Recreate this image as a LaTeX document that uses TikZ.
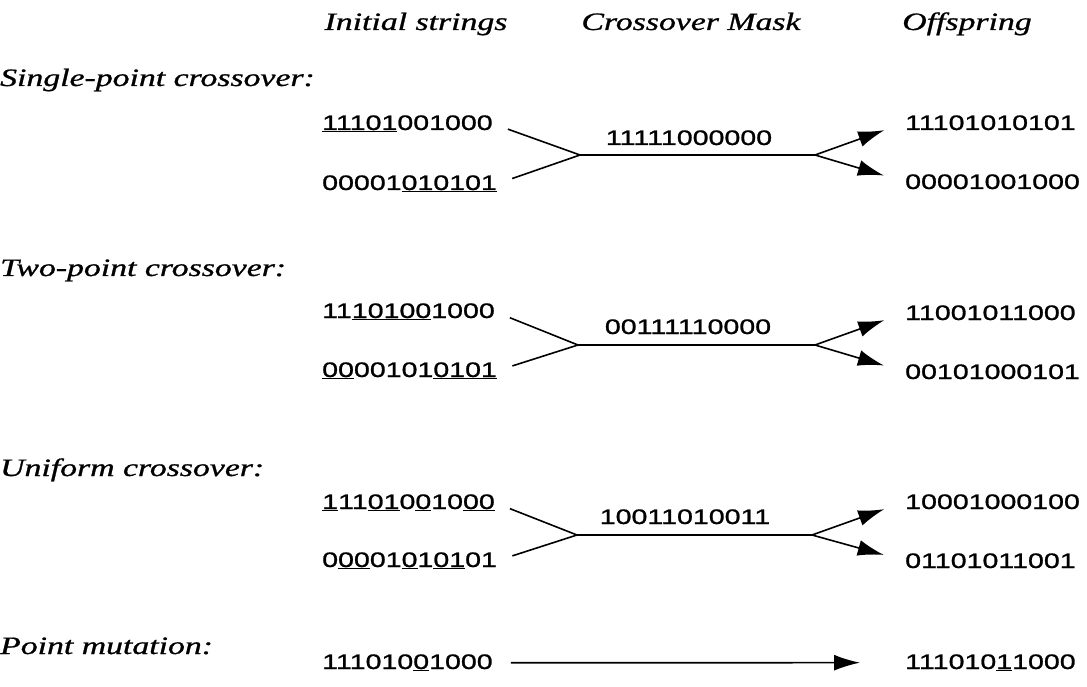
\documentclass[tikz,border=0pt]{standalone}
\usepackage{fontspec}
\setmainfont{Liberation Serif}
\newfontfamily\digitfont{Liberation Sans}[FakeBold=0.9]
\newfontfamily\labelfont{Liberation Serif}[FakeBold=0.8]
\usetikzlibrary{arrows.meta}
\newcommand\bitstr[1]{\scalebox{1.36}[1]{\fontsize{21}{21}\digitfont #1}}
\newcommand\U[1]{\underline{#1}}
\newcommand\ital[1]{\scalebox{1.35}[1]{\fontsize{25}{25}\labelfont\itshape #1}}
\tikzset{
  bits/.style={anchor=base west, inner sep=0pt},
  maskbits/.style={anchor=base, inner sep=0pt},
  hdr/.style={anchor=base, inner sep=0pt},
  lbl/.style={anchor=base west, inner sep=0pt},
  ln/.style={line width=1.6pt, shorten <=16pt},
  mid/.style={line width=1.6pt},
  arr/.style={line width=1.6pt, -{Latex[length=26pt,width=16pt]}, shorten >=22pt},
}
\begin{document}
\begin{tikzpicture}[x=1pt,y=-1pt]
\useasboundingbox (0,0) rectangle (1087,687);
% headers
\node[hdr] (h1) at (416,30) {\ital{Initial strings}};
\node[hdr] (h2) at (691,30) {\ital{Crossover Mask}};
\node[hdr] (h3) at (967,30) {\ital{Offspring}};
% section labels
\node[lbl] (l1) at (0,86) {\ital{Single-point crossover:}};
\node[lbl] (l2) at (0,276) {\ital{Two-point crossover:}};
\node[lbl] (l3) at (0,476) {\ital{Uniform crossover:}};
\node[lbl] (l4) at (0,654) {\ital{Point mutation:}};
% single-point
\node[bits] (s1a) at (322,130) {\bitstr{\U{11101}001000}};
\node[bits] (s1b) at (322,190) {\bitstr{00001\U{010101}}};
\node[maskbits] (m1) at (689,145) {\bitstr{11111000000}};
\node[bits] (o1a) at (905,130) {\bitstr{11101010101}};
\node[bits] (o1b) at (905,189) {\bitstr{00001001000}};
\coordinate (j1l) at (580,155);
\coordinate (j1r) at (815,155);
\draw[ln] (s1a.east) -- (j1l);
\draw[ln] (s1b.east) -- (j1l);
\draw[mid] (j1l) -- (j1r);
\draw[arr] (j1r) -- (o1a.west);
\draw[arr] (j1r) -- (o1b.west);
% two-point
\node[bits] (s2a) at (322,318) {\bitstr{11\U{10100}1000}};
\node[bits] (s2b) at (322,377) {\bitstr{\U{00}00101\U{0101}}};
\node[maskbits] (m2) at (688,334) {\bitstr{00111110000}};
\node[bits] (o2a) at (905,320) {\bitstr{11001011000}};
\node[bits] (o2b) at (905,379) {\bitstr{00101000101}};
\coordinate (j2l) at (578,345);
\coordinate (j2r) at (815,345);
\draw[ln] (s2a.east) -- (j2l);
\draw[ln] (s2b.east) -- (j2l);
\draw[mid] (j2l) -- (j2r);
\draw[arr] (j2r) -- (o2a.west);
\draw[arr] (j2r) -- (o2b.west);
% uniform
\node[bits] (s3a) at (322,509) {\bitstr{\U{1}11\U{01}0\U{0}10\U{00}}};
\node[bits] (s3b) at (322,567) {\bitstr{0\U{00}01\U{0}1\U{01}01}};
\node[maskbits] (m3) at (685,524) {\bitstr{10011010011}};
\node[bits] (o3a) at (905,509) {\bitstr{10001000100}};
\node[bits] (o3b) at (905,568) {\bitstr{01101011001}};
\coordinate (j3l) at (577,535);
\coordinate (j3r) at (812,535);
\draw[ln] (s3a.east) -- (j3l);
\draw[ln] (s3b.east) -- (j3l);
\draw[mid] (j3l) -- (j3r);
\draw[arr] (j3r) -- (o3a.west);
\draw[arr] (j3r) -- (o3b.west);
% mutation
\node[bits] (s4) at (322,669) {\bitstr{111010\U{0}1000}};
\node[bits] (o4) at (905,669) {\bitstr{111010\U{1}1000}};
\draw[line width=1.6pt, -{Latex[length=26pt,width=16pt]}, shorten <=18pt, shorten >=45pt] (s4.east) -- (o4.west);
\end{tikzpicture}
\end{document}
